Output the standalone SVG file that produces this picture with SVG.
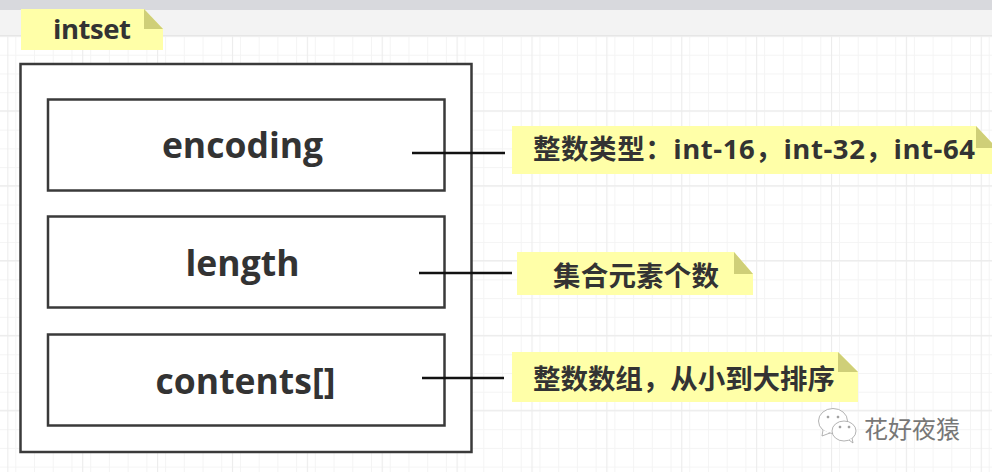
<svg xmlns="http://www.w3.org/2000/svg" width="992" height="472" viewBox="0 0 992 472">
<defs>
<pattern id="minor" width="18.72" height="18.72" patternUnits="userSpaceOnUse" x="-3.4" y="-1.4"><path d="M0 0.5H18.72M0.5 0V18.72" fill="none" stroke="#f4f4f4" stroke-width="1"/></pattern>
<pattern id="major" width="74.88" height="74.88" patternUnits="userSpaceOnUse" x="7.3" y="35.4"><path d="M0 0.5H74.88M0.5 0V74.88" fill="none" stroke="#ececec" stroke-width="1.3"/></pattern>
</defs>
<style>
.box{fill:#fff;stroke:#3a3a3a;stroke-width:2.5}
.note{fill:#ffffa8}
.fold{fill:#cfcf78}
.t{font-family:"Open Sans","Noto Sans","Noto Sans CJK SC",sans-serif;font-weight:700;fill:#333;text-anchor:middle;font-size:35.5px}
.n{font-family:"Open Sans","Noto Sans CJK SC",sans-serif;font-weight:700;fill:#333;font-size:27.5px}
.link{stroke:#111;stroke-width:2.4;fill:none}
</style>
<rect width="992" height="472" fill="#fff"/>
<rect width="992" height="472" fill="url(#minor)"/>
<rect width="992" height="472" fill="url(#major)"/>
<rect width="992" height="10" fill="#d8d9dd"/>
<rect y="10" width="992" height="26" fill="#f3f3f3"/>
<rect y="35" width="992" height="1" fill="#e6e6e6"/>
<g id="note-intset">
<path class="note" d="M21 9H144L163 29V50H21Z"/>
<path class="fold" d="M144 9L163 29H144Z"/>
<text class="n" x="53" y="39" font-size="27" textLength="78">intset</text>
</g>
<g id="intset-box"><rect class="box" x="20.500" y="64" width="451" height="388"/></g>
<g id="encoding"><rect class="box" x="48" y="99.500" width="396.500" height="91"/>
<text class="t" x="242.500" y="158">encoding</text></g>
<g id="length"><rect class="box" x="48" y="216.500" width="396.500" height="91"/>
<text class="t" x="242.500" y="276">length</text></g>
<g id="contents"><rect class="box" x="48" y="334.500" width="396.500" height="91"/>
<text class="t" x="245.500" y="394">contents[]</text></g>
<g id="connectors">
<line class="link" x1="412" y1="153" x2="505" y2="153"/>
<line class="link" x1="419" y1="273" x2="512" y2="273"/>
<line class="link" x1="422" y1="378" x2="504" y2="378"/>
</g>
<g id="note-encoding">
<path class="note" d="M512 126H976L992 143V174H512Z"/>
<path class="fold" d="M976 126L992 143V148H976Z"/>
<text class="n" x="533" y="159" textLength="442">整数类型：int-16，int-32，int-64</text>
</g>
<g id="note-length">
<path class="note" d="M517 252H734L753 274V295H517Z"/>
<path class="fold" d="M734 252L753 274H734Z"/>
<text class="n" x="553" y="286" textLength="166">集合元素个数</text>
</g>
<g id="note-contents">
<path class="note" d="M512 352H838L858 372V402H512Z"/>
<path class="fold" d="M838 352L858 372H838Z"/>
<text class="n" x="533" y="389" textLength="302">整数数组，从小到大排序</text>
</g>
<g id="watermark" fill="#fff" stroke="#a0a0a0" stroke-width="0.8">
<ellipse cx="833" cy="421" rx="14.500" ry="12.500"/>
<path d="M823 430L822 436L830 433"/>
<ellipse cx="844" cy="431" rx="12" ry="10"/>
<path d="M849 440L853 443L852 438"/>
<circle cx="828" cy="417" r="1" fill="#8a8a8a"/><circle cx="838" cy="417" r="1" fill="#8a8a8a"/>
<circle cx="840" cy="427" r="1" fill="#8a8a8a"/><circle cx="849" cy="427" r="1" fill="#8a8a8a"/>
<text x="864" y="438" stroke="none" fill="#777" font-family="'Noto Sans CJK SC',sans-serif" font-size="24">花好夜猿</text>
</g>
</svg>
